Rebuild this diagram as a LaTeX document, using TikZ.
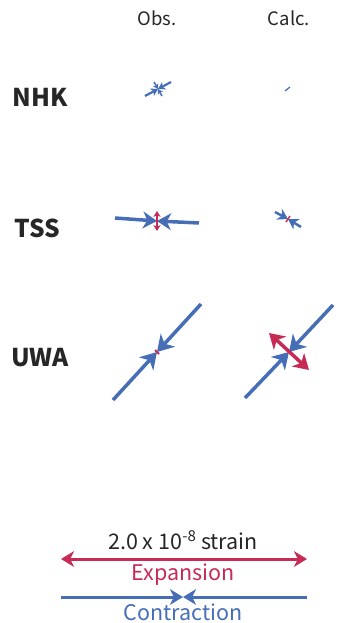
\documentclass[tikz,border=0pt]{standalone}
\usepackage{fontspec}
\setmainfont{Noto Sans CJK JP}
\usetikzlibrary{arrows.meta, calc, positioning}
\definecolor{cblue}{RGB}{70,110,182}
\definecolor{cred}{RGB}{200,42,86}
\tikzset{
  head/.style={font=\fontsize{18.5}{22}\selectfont, text=black!85},
  site/.style={font=\bfseries\fontsize{24.5}{28}\selectfont, text=black!85},
  comp/.style={cblue, line width=3.5pt, -{Stealth[length=#1, width=1.2*#1, inset=0.3*#1]}},
  comp/.default=14pt,
  expa/.style={cred, line width=3pt, {Stealth[length=#1, width=1.2*#1, inset=0.3*#1]}-{Stealth[length=#1, width=1.2*#1, inset=0.3*#1]}},
  expa/.default=12pt,
  legtext/.style={font=\fontsize{21.5}{25}\selectfont}
}
\begin{document}
\begin{tikzpicture}[x=1pt, y=-1pt]
  \useasboundingbox (0,0) rectangle (339,623);
  % column heads and sites
  \node[head] (obs) at (157,18) {Obs.};
  \node[head] (calc) at (289,18) {Calc.};
  \node[site] (nhk) at (40,97) {NHK};
  \node[site] (tss) at (37,228) {TSS};
  \node[site] (uwa) at (40,358) {UWA};

  % NHK obs.
  \coordinate (nhkO) at (158,89);
  \coordinate (nhkOa) at (145,96);
  \coordinate (nhkOb) at (171,82);
  \coordinate (nhkOc) at (154,82);
  \coordinate (nhkOd) at (162,96);
  \draw[comp=7pt, line width=2.2pt] (nhkOa) -- (nhkO);
  \draw[comp=7pt, line width=2.2pt] (nhkOb) -- (nhkO);
  \draw[comp=5pt, line width=1.5pt] (nhkOc) -- (nhkO);
  \draw[comp=5pt, line width=1.5pt] (nhkOd) -- (nhkO);
  % NHK calc.
  \coordinate (nhkCa) at (285,91);
  \coordinate (nhkCb) at (290,87);
  \draw[cblue, line width=1.2pt] (nhkCa) -- (nhkCb);

  % TSS obs.
  \coordinate (tssO) at (157,221);
  \coordinate (tssOa) at (115,218);
  \coordinate (tssOb) at (199,223);
  \coordinate (tssOc) at (157,211);
  \coordinate (tssOd) at (157,231);
  \draw[comp=14pt] (tssOa) -- (tssO);
  \draw[comp=14pt] (tssOb) -- (tssO);
  \draw[expa=6pt, line width=2pt] (tssOc) -- (tssOd);
  % TSS calc.
  \coordinate (tssC) at (288,219);
  \coordinate (tssCa) at (275,212);
  \coordinate (tssCb) at (301,227);
  \coordinate (tssCc) at (286,222);
  \coordinate (tssCd) at (290,216);
  \draw[comp=10pt, line width=2.5pt] (tssCa) -- (tssC);
  \draw[comp=10pt, line width=2.5pt] (tssCb) -- (tssC);
  \draw[cred, line width=1.5pt] (tssCc) -- (tssCd);

  % UWA obs.
  \coordinate (uwaO) at (157,352);
  \coordinate (uwaOa) at (113,400);
  \coordinate (uwaOb) at (201,304);
  \coordinate (uwaOc) at (155,350);
  \coordinate (uwaOd) at (159,354);
  \draw[comp=16pt] (uwaOa) -- (uwaO);
  \draw[comp=16pt] (uwaOb) -- (uwaO);
  \draw[cred, line width=2pt] (uwaOc) -- (uwaOd);
  % UWA calc.
  \coordinate (uwaC) at (289,352);
  \coordinate (uwaCa) at (245,398);
  \coordinate (uwaCb) at (333,305);
  \coordinate (uwaCc) at (269,333);
  \coordinate (uwaCd) at (309,370);
  \draw[comp=16pt] (uwaCa) -- (uwaC);
  \draw[comp=16pt] (uwaCb) -- (uwaC);
  \draw[expa=15pt, line width=3.5pt] (uwaCc) -- (uwaCd);

  % legend
  \node[legtext, text=black!85] (scale) at (183,540) {2.0 x 10\textsuperscript{-8} strain};
  \coordinate (expL) at (61,559);
  \coordinate (expR) at (307,559);
  \draw[expa=13pt] (expL) -- (expR);
  \node[legtext, text=cred] (exptxt) at (183,575) {Expansion};
  \coordinate (conL) at (61,597);
  \coordinate (conM) at (183,597);
  \coordinate (conR) at (307,597);
  \draw[comp=13pt, line width=3pt] (conL) -- (conM);
  \draw[comp=13pt, line width=3pt] (conR) -- (conM);
  \node[legtext, text=cblue] (contxt) at (183,612) {Contraction};
\end{tikzpicture}
\end{document}
